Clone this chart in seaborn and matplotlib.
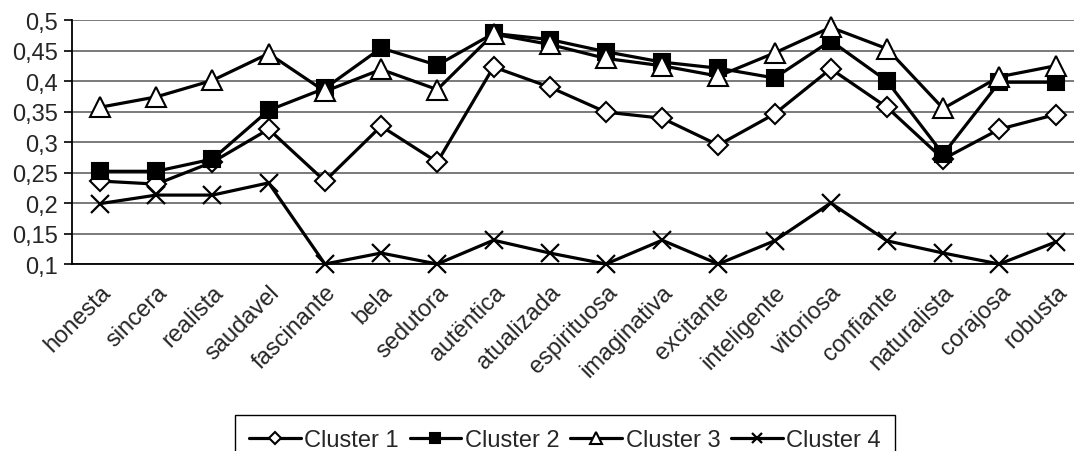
import numpy as np
import pandas as pd
import matplotlib
matplotlib.use("Agg")
import matplotlib.pyplot as plt
import matplotlib.transforms as mtransforms
import seaborn as sns
from matplotlib.ticker import FuncFormatter, FixedLocator

categories = ["honesta", "sincera", "realista", "saudavel", "fascinante", "bela",
              "sedutora", "autëntica", "atualizada", "espirituosa", "imaginativa",
              "excitante", "inteligente", "vitoriosa", "confiante", "naturalista",
              "corajosa", "robusta"]
cluster1 = [0.236, 0.231, 0.267, 0.321, 0.236, 0.326, 0.267, 0.423, 0.390, 0.349,
            0.339, 0.295, 0.346, 0.420, 0.357, 0.272, 0.321, 0.345]
cluster2 = [0.252, 0.252, 0.272, 0.352, 0.388, 0.454, 0.426, 0.478, 0.468, 0.448,
            0.431, 0.421, 0.405, 0.466, 0.400, 0.280, 0.398, 0.398]
cluster3 = [0.357, 0.374, 0.401, 0.445, 0.383, 0.419, 0.386, 0.477, 0.460, 0.437,
            0.425, 0.408, 0.446, 0.488, 0.453, 0.355, 0.407, 0.425]
cluster4 = [0.199, 0.213, 0.213, 0.233, 0.100, 0.118, 0.100, 0.139, 0.118, 0.100,
            0.139, 0.100, 0.138, 0.200, 0.138, 0.118, 0.100, 0.136]
series_names = ["Cluster 1", "Cluster 2", "Cluster 3", "Cluster 4"]
y_ticks = [0.1, 0.15, 0.2, 0.25, 0.3, 0.35, 0.4, 0.45, 0.5]

sns.set_style("white")
plt.rcParams['font.family'] = ['Liberation Sans', 'DejaVu Sans']
FS = 17

fig = plt.figure(figsize=(10.74, 4.52), dpi=100)
ax = fig.add_axes([0.067, 0.4137, 0.942, 0.5398])

pos = np.arange(len(categories))
styles = [
    dict(marker="D", markersize=10, markerfacecolor="white"),
    dict(marker="s", markersize=11, markerfacecolor="black"),
    dict(marker="^", markersize=14, markerfacecolor="white"),
    dict(marker="x", markersize=13, markeredgewidth=1.6),
]
for name, vals, st in zip(series_names, [cluster1, cluster2, cluster3, cluster4], styles):
    df = pd.DataFrame({"x": pos, "y": vals})
    sns.lineplot(data=df, x="x", y="y", ax=ax, color="black", linewidth=2.3,
                 markeredgecolor="black", markeredgewidth=st.pop("markeredgewidth", 1.5),
                 label=name, sort=False, zorder=3, clip_on=False, **st)

ax.set_xlim(-0.5, len(categories) - 0.5)
ax.set_ylim(0.1, 0.5)
ax.yaxis.set_major_locator(FixedLocator(y_ticks))
ax.yaxis.set_major_formatter(FuncFormatter(lambda v, p: ("%g" % round(v, 2)).replace(".", ",")))
ax.yaxis.grid(True, color="#6f6f6f", linewidth=1.3)
ax.set_axisbelow(True)

ax.set_xticks(pos)
ax.set_xticklabels(categories, rotation=45, ha="right", rotation_mode="anchor", fontsize=FS)
offset = mtransforms.ScaledTranslation(-11 / 100, -6 / 100, fig.dpi_scale_trans)
for lbl in ax.get_xticklabels():
    lbl.set_transform(lbl.get_transform() + offset)
ax.set_xticks(np.arange(len(categories) + 1) - 0.5, minor=True)
ax.tick_params(axis="x", which="major", length=0, pad=12)
ax.tick_params(axis="x", which="minor", length=6, width=1.2, color="black", direction="out")
ax.tick_params(axis="y", labelsize=FS, length=6, width=1.2, color="black", direction="out",
               left=True, pad=4)
ax.set_xlabel("")
ax.set_ylabel("")
for s in ["top", "right"]:
    ax.spines[s].set_visible(False)
for s in ["left", "bottom"]:
    ax.spines[s].set_color("black")
    ax.spines[s].set_linewidth(1.3)

handles, labels = ax.get_legend_handles_labels()
ax.get_legend().remove()
leg = fig.legend(handles, labels, loc="center", bbox_to_anchor=(0.526, 0.024), ncol=4,
                 frameon=True, fancybox=False, shadow=False, fontsize=FS,
                 handlelength=2.2, handletextpad=0.15, columnspacing=0.45,
                 borderpad=0.6, edgecolor="black", framealpha=1, markerscale=0.6)
leg.get_frame().set_linewidth(1.0)

fig.savefig("out.png", dpi=100)
